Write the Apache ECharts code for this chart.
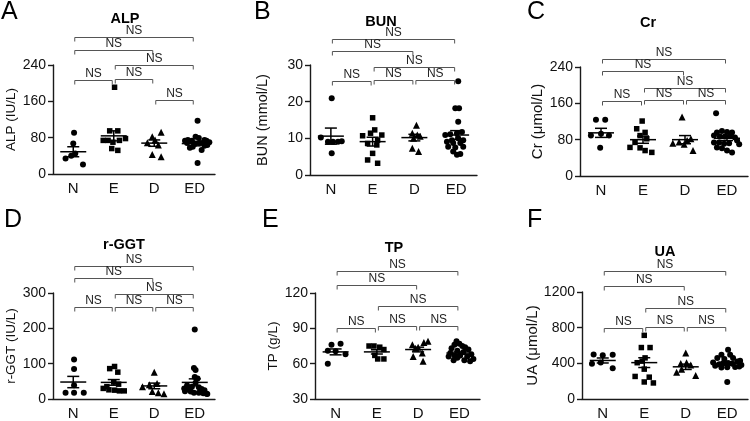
<!DOCTYPE html>
<html><head><meta charset="utf-8">
<script src="https://cdn.jsdelivr.net/npm/echarts@6/dist/echarts.min.js"></script>
<style>html,body{margin:0;padding:0;background:#fff}#c{width:750px;height:421px}</style>
</head><body><div id="c"></div>
<script>
const categories = ['N', 'E', 'D', 'ED'];
const sigLabels = ['NS', 'NS', 'NS', 'NS', 'NS', 'NS'];

// ---- A: ALP (IU/L) ----
const ALP_N = [91, 67, 45, 34, 40, 21];
const ALP_N_J = [0.02, 0, 0.05, -0.19, -0.05, 0.24];
const ALP_E = [191, 95, 95, 74, 74, 70, 74, 78, 56, 52];
const ALP_E_J = [0.02, -0.1, 0.1, -0.26, -0.14, -0.02, 0.14, 0.29, -0.05, 0.1];
const ALP_D = [69, 82, 92, 75, 64, 43, 38];
const ALP_D_J = [-0.17, -0.05, 0.17, 0.02, 0.1, -0.05, 0.17];
const ALP_ED = [117, 82, 79, 75, 75, 73, 73, 73, 70, 68, 68, 68, 66, 64, 60, 58, 53, 24, 72, 62];
const ALP_ED_J = [0.07, 0.02, 0.1, -0.17, 0.24, -0.07, -0.24, 0.29, 0.36, 0.19, -0.19, 0.12, 0, 0.31, -0.05, -0.12, 0.17, 0.07, -0.14, 0.24];
const ALP_MEAN = [49, 84, 68, 67];
const ALP_SEM = [11, 11, 7, 5];
const ALP_BR = [[0, 3, 301], [0, 2, 273], [1, 3, 240], [0, 1, 207], [1, 2, 209], [2, 3, 163]];

// ---- B: BUN (mmol/L) ----
const BUN_N = [20.9, 10.2, 9.1, 9.1, 9.1, 9.2, 5.9];
const BUN_N_J = [0.02, -0.24, -0.07, 0.05, 0.17, 0.26, 0.02];
const BUN_E = [15.6, 12.3, 11.4, 10.7, 10.9, 9.5, 8.6, 8.2, 5.9, 4.1, 3.2];
const BUN_E_J = [0, 0.05, -0.05, -0.24, 0.22, 0.12, -0.12, 0.1, 0, -0.12, 0.12];
const BUN_D = [13.6, 11.4, 10.9, 10.6, 10.0, 7.3, 6.4];
const BUN_D_J = [0.05, -0.05, 0.07, 0.14, -0.02, -0.05, 0.1];
const BUN_ED = [25.6, 18.2, 18.2, 14.5, 10.9, 11.1, 11.4, 11.7, 9.5, 10.0, 9.1, 8.7, 8.7, 9.5, 7.7, 7.5, 7.7, 6.4, 5.5, 5.7];
const BUN_ED_J = [0.05, -0.02, 0.07, 0.05, -0.26, -0.14, 0.02, 0.14, -0.1, 0.05, -0.22, -0.07, 0.1, 0.17, -0.19, -0.02, 0.17, -0.07, 0.02, 0.1];
const BUN_MEAN = [10.6, 9.1, 10.2, 10.9];
const BUN_SEM = [2.2, 1.2, 0.9, 1.2];
const BUN_BR = [[0, 3, 37.2], [0, 2, 33.9], [1, 3, 29.5], [0, 1, 25.7], [1, 2, 25.9], [2, 3, 25.9]];

// ---- C: Cr (umol/L) ----
const CR_N = [124, 124, 89, 93, 89, 62];
const CR_N_J = [-0.12, 0.1, -0.24, 0, 0.19, -0.02];
const CR_E = [121, 104, 96, 89, 82, 74, 63, 62, 56, 52];
const CR_E_J = [-0.02, -0.15, 0.05, -0.07, 0.09, -0.19, -0.31, -0.07, 0.05, 0.21];
const CR_D = [130, 72, 75, 70, 78, 82, 56];
const CR_D_J = [-0.07, -0.29, -0.14, -0.02, 0.05, 0.14, 0.19];
const CR_ED = [138, 96, 99, 97, 96, 89, 87, 87, 88, 85, 74, 74, 71, 72, 78, 63, 61, 56, 52, 70];
const CR_ED_J = [-0.26, -0.24, -0.12, 0, 0.12, -0.31, -0.17, -0.05, 0.07, 0.19, -0.31, -0.19, -0.07, 0.05, 0.24, -0.24, -0.12, 0, 0.12, 0.29];
const CR_MEAN = [95, 80, 80, 83];
const CR_SEM = [10, 8, 9, 5];
const CR_BR = [[0, 3, 257], [0, 2, 231], [1, 3, 194], [0, 1, 165], [1, 2, 168], [2, 3, 168]];

// ---- D: r-GGT (IU/L) ----
const GGT_N = [112, 85, 39, 18, 18, 18];
const GGT_N_J = [0.02, 0.02, 0.02, -0.19, 0.02, 0.26];
const GGT_E = [92, 86, 76, 48, 42, 35, 30, 26, 25, 23, 23];
const GGT_E_J = [0.02, -0.1, 0.1, 0, 0.12, -0.17, -0.26, -0.12, 0.02, 0.14, 0.26];
const GGT_D = [76, 35, 40, 44, 21, 18, 15];
const GGT_D_J = [0, -0.29, -0.12, 0.07, -0.05, 0.1, 0.24];
const GGT_ED = [197, 88, 82, 62, 58, 46, 38, 35, 33, 30, 29, 28, 25, 22, 21, 18, 18, 16, 15, 14];
const GGT_ED_J = [0, -0.02, 0.02, 0, 0.07, 0.02, -0.19, -0.07, 0.1, -0.26, -0.14, 0.17, 0.24, -0.24, -0.1, -0.02, 0.1, 0.21, 0.29, 0.31];
const GGT_MEAN = [48, 47, 37, 47];
const GGT_SEM = [16, 8, 8, 10];
const GGT_BR = [[0, 3, 377], [0, 2, 342], [1, 3, 297], [0, 1, 261], [1, 2, 261], [2, 3, 261]];

// ---- E: TP (g/L) ----
const TP_N = [76, 77, 71, 70.6, 68, 60];
const TP_N_J = [-0.1, 0.12, -0.19, 0, 0.24, -0.19];
const TP_E = [75, 75, 74, 72, 67, 64, 64];
const TP_E_J = [-0.19, -0.07, 0.07, 0.17, -0.05, 0.02, 0.17];
const TP_D = [79, 78, 76, 74, 73, 69, 66, 62];
const TP_D_J = [0.24, 0.14, -0.14, 0, -0.07, 0.1, -0.12, 0.12];
const TP_ED = [79, 77, 76, 75, 74, 73, 72, 71, 70, 69, 68, 67, 67, 66, 66, 65, 64, 63, 63, 62];
const TP_ED_J = [-0.07, 0, -0.12, 0.07, 0.14, -0.19, 0.22, -0.05, 0.1, -0.22, 0.29, -0.12, 0.02, -0.26, 0.19, -0.05, 0.34, 0.12, -0.14, 0.26];
const TP_MEAN = [70, 70, 72, 69];
const TP_SEM = [2.5, 1.8, 2, 1];
const TP_BR = [[0, 3, 139], [0, 2, 126.7], [1, 3, 108.9], [0, 1, 90.3], [1, 2, 92], [2, 3, 92.4]];

// ---- F: UA (umol/L) ----
const UA_N = [500, 490, 495, 395, 410, 345];
const UA_N_J = [-0.22, 0, 0.24, -0.26, -0.05, 0.24];
const UA_E = [714, 577, 577, 461, 425, 407, 335, 253, 245, 191, 180];
const UA_E_J = [0, -0.07, 0.14, 0.02, -0.05, -0.17, 0, -0.22, 0.12, 0, 0.22];
const UA_D = [516, 397, 407, 380, 335, 300, 263];
const UA_D_J = [0, -0.12, 0.02, 0.12, -0.1, -0.22, 0.24];
const UA_ED = [551, 497, 497, 461, 450, 460, 408, 389, 400, 405, 395, 372, 353, 355, 360, 365, 191, 420, 430, 380];
const UA_ED_J = [0.02, -0.14, 0.07, -0.24, -0.07, 0.14, -0.34, -0.19, -0.1, 0.02, 0.12, -0.29, -0.14, 0, 0.19, 0.29, 0, 0.24, 0.31, 0.34];
const UA_MEAN = [432, 408, 361, 400];
const UA_SEM = [28, 55, 30, 18];
const UA_BR = [[0, 3, 1435], [0, 2, 1262], [1, 3, 1020], [0, 1, 793], [1, 2, 804], [2, 3, 804]];

const yTicks = {
  A: [0, 240, 80], B: [0, 30, 10], C: [0, 240, 80],
  D: [0, 300, 100], E: [30, 120, 30], F: [0, 1200, 400]
};

const panels = [
  {key: 'A', title: 'ALP', yName: 'ALP (IU/L)', groups: [ALP_N, ALP_E, ALP_D, ALP_ED], jit: [ALP_N_J, ALP_E_J, ALP_D_J, ALP_ED_J], mean: ALP_MEAN, sem: ALP_SEM, br: ALP_BR},
  {key: 'B', title: 'BUN', yName: 'BUN (mmol/L)', groups: [BUN_N, BUN_E, BUN_D, BUN_ED], jit: [BUN_N_J, BUN_E_J, BUN_D_J, BUN_ED_J], mean: BUN_MEAN, sem: BUN_SEM, br: BUN_BR},
  {key: 'C', title: 'Cr', yName: 'Cr (μmol/L)', groups: [CR_N, CR_E, CR_D, CR_ED], jit: [CR_N_J, CR_E_J, CR_D_J, CR_ED_J], mean: CR_MEAN, sem: CR_SEM, br: CR_BR},
  {key: 'D', title: 'r-GGT', yName: 'r-GGT (IU/L)', groups: [GGT_N, GGT_E, GGT_D, GGT_ED], jit: [GGT_N_J, GGT_E_J, GGT_D_J, GGT_ED_J], mean: GGT_MEAN, sem: GGT_SEM, br: GGT_BR},
  {key: 'E', title: 'TP', yName: 'TP (g/L)', groups: [TP_N, TP_E, TP_D, TP_ED], jit: [TP_N_J, TP_E_J, TP_D_J, TP_ED_J], mean: TP_MEAN, sem: TP_SEM, br: TP_BR},
  {key: 'F', title: 'UA', yName: 'UA (μmol/L)', groups: [UA_N, UA_E, UA_D, UA_ED], jit: [UA_N_J, UA_E_J, UA_D_J, UA_ED_J], mean: UA_MEAN, sem: UA_SEM, br: UA_BR}
];

// layout (pixels)
const layout = [
  {left: 53, top: 65, width: 162, height: 109, nameGap: 27, nameSize: 13.5, letter: [1, 0], tpos: [125, 19]},
  {left: 310, top: 65, width: 167, height: 110, nameGap: 40, nameSize: 14.5, letter: [254, 0], tpos: [381, 22]},
  {left: 580, top: 67, width: 168, height: 109, nameGap: 33, nameSize: 15, letter: [527, 0], tpos: [648, 23]},
  {left: 53, top: 293, width: 162, height: 110, nameGap: 33, nameSize: 13.5, letter: [4, 208], tpos: [124, 245]},
  {left: 315, top: 293, width: 165, height: 110, nameGap: 29, nameSize: 13.5, letter: [262, 208], tpos: [394, 248]},
  {left: 582, top: 292, width: 166, height: 111, nameGap: 33, nameSize: 15, letter: [527, 208], tpos: [665, 252]}
];

const FONT = '"Liberation Sans", Arial, Helvetica, sans-serif';
const INK = '#111';
const symbols = ['circle', 'rect', 'triangle', 'circle'];
const symSizes = [6, 5.5, 7, 6];

const option = {animation: false, backgroundColor: '#fff', title: [], grid: [], xAxis: [], yAxis: [], series: []};

panels.forEach((p, i) => {
  const L = layout[i];
  const t = yTicks[p.key];
  option.title.push({text: p.key, left: L.letter[0], top: L.letter[1], padding: 0,
    textStyle: {fontSize: 25, fontWeight: 'normal', color: '#000', fontFamily: FONT}});
  option.title.push({text: p.title, left: L.tpos[0], top: L.tpos[1], padding: 0, textAlign: 'center', textVerticalAlign: 'middle',
    textStyle: {fontSize: 14.5, fontWeight: 'bold', color: '#000', fontFamily: FONT}});
  option.grid.push({left: L.left, top: L.top, width: L.width, height: L.height});
  option.xAxis.push({type: 'category', gridIndex: i, data: categories, boundaryGap: true,
    axisLine: {onZero: false, lineStyle: {color: '#1a1a1a', width: 1.4}},
    axisTick: {alignWithLabel: true, length: 4, lineStyle: {color: '#1a1a1a', width: 1.4}},
    axisLabel: {color: INK, fontSize: 15, margin: 7, fontFamily: FONT, interval: 0},
    splitLine: {show: false}});
  option.xAxis.push({type: 'value', gridIndex: i, min: -0.5, max: 3.5, show: false, position: 'bottom',
    axisLine: {onZero: false}});
  option.yAxis.push({type: 'value', gridIndex: i, min: t[0], max: t[1], interval: t[2],
    name: p.yName, nameLocation: 'middle', nameGap: L.nameGap,
    nameTextStyle: {fontSize: L.nameSize, color: INK, fontFamily: FONT},
    axisLine: {show: true, onZero: false, lineStyle: {color: '#1a1a1a', width: 1.4}},
    axisTick: {show: true, length: 5, lineStyle: {color: '#1a1a1a', width: 1.4}},
    axisLabel: {color: INK, fontSize: 14, margin: 7, fontFamily: FONT, formatter: v => String(v)},
    splitLine: {show: false}});
  p.groups.forEach((vals, g) => {
    option.series.push({type: 'scatter', xAxisIndex: 2 * i + 1, yAxisIndex: i,
      symbol: symbols[g], symbolSize: symSizes[g], itemStyle: {color: '#000', opacity: 1},
      data: vals.map((v, k) => [g + p.jit[g][k], v]), silent: true});
  });
  // mean +/- SEM
  option.series.push({type: 'custom', xAxisIndex: 2 * i + 1, yAxisIndex: i, silent: true, z: 5,
    data: p.mean.map((m, g) => [g, m, p.sem[g]]),
    renderItem: (params, api) => {
      const g = api.value(0), m = api.value(1), s = api.value(2);
      const c = api.coord([g, m]);
      const top = api.coord([g, m + s])[1];
      const bot = api.coord([g, m - s])[1];
      const st = {stroke: '#000', lineWidth: 1.5};
      return {type: 'group', children: [
        {type: 'line', shape: {x1: c[0] - 13, y1: c[1], x2: c[0] + 13, y2: c[1]}, style: st},
        {type: 'line', shape: {x1: c[0], y1: top, x2: c[0], y2: bot}, style: st},
        {type: 'line', shape: {x1: c[0] - 6, y1: top, x2: c[0] + 6, y2: top}, style: st},
        {type: 'line', shape: {x1: c[0] - 6, y1: bot, x2: c[0] + 6, y2: bot}, style: st}
      ]};
    }});
  // significance brackets
  option.series.push({type: 'custom', xAxisIndex: 2 * i + 1, yAxisIndex: i, silent: true, clip: false, z: 6,
    data: p.br,
    renderItem: (params, api) => {
      const a = api.coord([api.value(0), api.value(2)]);
      const b = api.coord([api.value(1), api.value(2)]);
      const y = Math.round(a[1]) + 0.5;
      const x1 = a[0] + 1.5, x2 = b[0] - 1.5;
      return {type: 'group', children: [
        {type: 'polyline', shape: {points: [[x1, y + 4], [x1, y], [x2, y], [x2, y + 4]]},
          style: {stroke: '#555', lineWidth: 1, fill: 'none'}},
        {type: 'text', x: (x1 + x2) / 2, y: y - 0.5,
          style: {text: sigLabels[params.dataIndex], fontSize: 12, fontFamily: FONT, fill: '#222', align: 'center', verticalAlign: 'bottom'}}
      ]};
    }});
});

const chart = echarts.init(document.getElementById('c'), null, {renderer: 'canvas'});
chart.setOption(option);
</script>
</body></html>
